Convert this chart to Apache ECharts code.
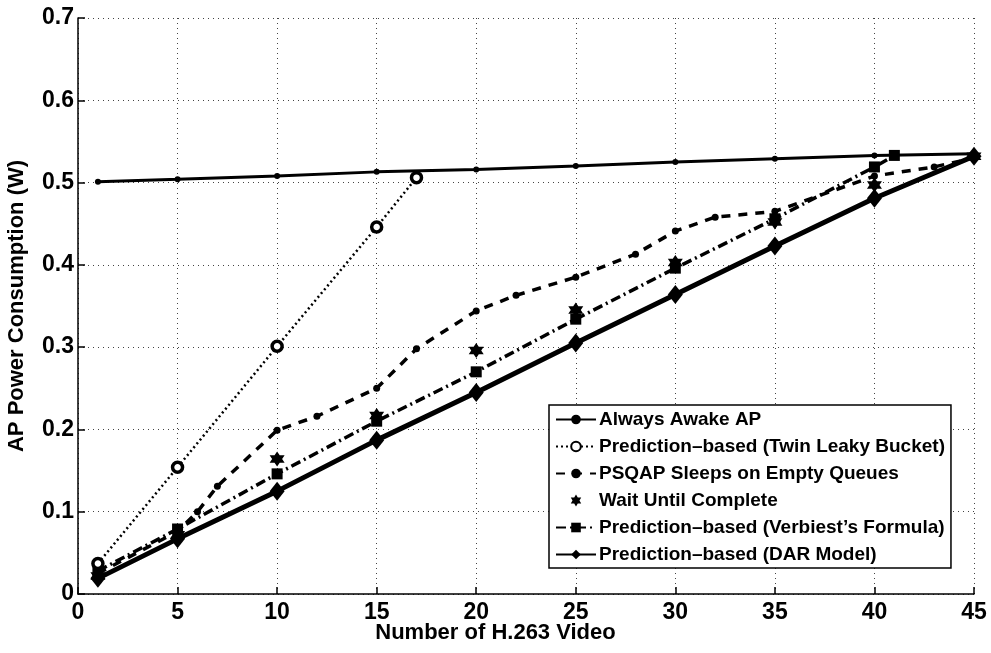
<!DOCTYPE html>
<html>
<head>
<meta charset="utf-8">
<script src="https://cdn.jsdelivr.net/npm/echarts@6/dist/echarts.min.js"></script>
<style>
  html, body { margin: 0; padding: 0; background: #fff; }
  #chart { width: 991px; height: 653px; }
</style>
</head>
<body>
<div id="chart"></div>
<script>
// Power draw of the access point versus the number of H.263 video streams.
const xTicks = [0, 5, 10, 15, 20, 25, 30, 35, 40, 45];

const awakeX = [1, 5, 10, 15, 20, 25, 30, 35, 40, 45];
const awakeY = [0.501, 0.504, 0.508, 0.513, 0.516, 0.520, 0.525, 0.529, 0.533, 0.535];

const twinX = [1, 5, 10, 15, 17];
const twinY = [0.037, 0.154, 0.301, 0.446, 0.506];

const psqapX = [1, 5, 6, 7, 10, 12, 15, 17, 20, 22, 25, 28, 30, 32, 35, 40, 43, 45];
const psqapY = [0.025, 0.076, 0.100, 0.131, 0.199, 0.216, 0.250, 0.298, 0.344, 0.363, 0.385, 0.413, 0.441, 0.458, 0.465, 0.508, 0.519, 0.530];

const waitX = [1, 5, 10, 15, 20, 25, 30, 35, 40, 45];
const waitY = [0.022, 0.072, 0.164, 0.217, 0.296, 0.345, 0.403, 0.452, 0.497, 0.532];

const verbX = [1, 5, 10, 15, 20, 25, 30, 35, 40, 41];
const verbY = [0.028, 0.079, 0.146, 0.210, 0.270, 0.334, 0.396, 0.456, 0.519, 0.533];

const darX = [1, 5, 10, 15, 20, 25, 30, 35, 40, 45];
const darY = [0.019, 0.067, 0.125, 0.187, 0.245, 0.305, 0.364, 0.423, 0.481, 0.532];

const names = [
  'Always Awake AP',
  'Prediction\u2013based (Twin Leaky Bucket)',
  'PSQAP Sleeps on Empty Queues',
  'Wait Until Complete',
  'Prediction\u2013based (Verbiest\u2019s Formula)',
  'Prediction\u2013based (DAR Model)'
];

const pairs = (xs, ys) => xs.map((x, i) => [x, ys[i]]);
const FONT = '"Liberation Sans", Arial, Helvetica, sans-serif';
const INK = '#000';
const starPath = 'path://M0,-10 L3,-5 L8.7,-5 L5.8,0 L8.7,5 L3,5 L0,10 L-3,5 L-8.7,5 L-5.8,0 L-8.7,-5 L-3,-5 Z';

const gridLine = { show: true, lineStyle: { type: [1, 4], color: '#444', width: 1 } };

const chart = echarts.init(document.getElementById('chart'), null, { renderer: 'canvas' });
chart.setOption({
  animation: false,
  backgroundColor: '#fff',
  textStyle: { fontFamily: FONT, color: INK },
  title: {
    text: 'Number of H.263 Video',
    left: 'center',
    top: 622,
    padding: 0,
    textStyle: { fontFamily: FONT, fontSize: 22, fontWeight: 'bold', color: INK }
  },
  grid: { left: 78, right: 17, top: 18, bottom: 59, containLabel: false, outerBoundsMode: 'none' },
  legend: {
    orient: 'vertical',
    left: 549,
    top: 405,
    padding: [5, 6, 4, 6],
    itemGap: 8,
    itemWidth: 40,
    itemHeight: 12,
    borderColor: INK,
    borderWidth: 1.5,
    backgroundColor: '#fff',
    textStyle: { fontFamily: FONT, fontSize: 19, fontWeight: 'bold', color: INK, padding: [0, 0, 0, -2] },
    data: names
  },
  xAxis: {
    type: 'value',
    min: 0,
    max: 45,
    interval: 5,
    axisLine: { show: true, onZero: false, lineStyle: { color: INK, width: 1.5 } },
    axisTick: { show: true, inside: true, length: 7, lineStyle: { color: INK, width: 1.5 } },
    axisLabel: { fontFamily: FONT, fontSize: 23, fontWeight: 'bold', color: INK, margin: 7 },
    splitLine: gridLine
  },
  yAxis: {
    type: 'value',
    min: 0,
    max: 0.7,
    interval: 0.1,
    name: 'AP Power Consumption (W)',
    nameLocation: 'middle',
    nameGap: 50,
    nameTextStyle: { fontFamily: FONT, fontSize: 22, fontWeight: 'bold', color: INK },
    axisLine: { show: true, onZero: false, lineStyle: { color: INK, width: 1.5 } },
    axisTick: { show: true, inside: true, length: 7, lineStyle: { color: INK, width: 1.5 } },
    axisLabel: { fontFamily: FONT, fontSize: 23, fontWeight: 'bold', color: INK, margin: 4 },
    splitLine: gridLine
  },
  series: [
    {
      name: names[0], type: 'line', data: pairs(awakeX, awakeY),
      symbol: 'circle', symbolSize: 6,
      lineStyle: { color: INK, width: 3 },
      itemStyle: { color: INK }, z: 3
    },
    {
      name: names[1], type: 'line', data: pairs(twinX, twinY),
      symbol: 'circle', symbolSize: 10,
      lineStyle: { color: INK, width: 2.5, type: [2, 3] },
      itemStyle: { color: '#fff', borderColor: INK, borderWidth: 3.5 }, z: 4
    },
    {
      name: names[2], type: 'line', data: pairs(psqapX, psqapY),
      symbol: 'circle', symbolSize: 7,
      lineStyle: { color: INK, width: 3.5, type: [9, 8] },
      itemStyle: { color: INK }, z: 3
    },
    {
      name: names[3], type: 'scatter', data: pairs(waitX, waitY),
      symbol: starPath, symbolSize: 15,
      itemStyle: { color: INK, opacity: 1 }, z: 5
    },
    {
      name: names[4], type: 'line', data: pairs(verbX, verbY),
      symbol: 'rect', symbolSize: 11,
      lineStyle: { color: INK, width: 3.5, type: [10, 4, 2, 4] },
      itemStyle: { color: INK }, z: 3
    },
    {
      name: names[5], type: 'line', data: pairs(darX, darY),
      symbol: 'diamond', symbolSize: [15, 19],
      lineStyle: { color: INK, width: 5 },
      itemStyle: { color: INK }, z: 3
    }
  ]
});
</script>
</body>
</html>
